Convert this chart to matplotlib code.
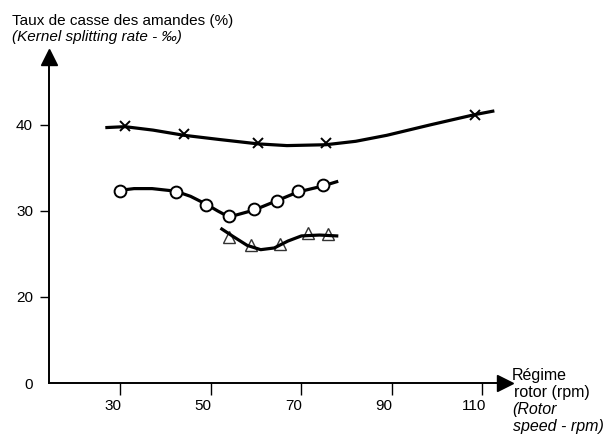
import numpy as np
import matplotlib
matplotlib.use("Agg")
from matplotlib import pyplot as plt
from matplotlib.transforms import ScaledTranslation

# measured points (rotor speed, splitting rate)
x_cross = [31.0, 44.0, 60.4, 75.4, 108.3]
y_cross = [39.9, 39.0, 37.9, 37.9, 41.2]
x_circle = [29.9, 42.2, 48.9, 54.0, 59.5, 64.6, 69.2, 74.7]
y_circle = [32.3, 32.2, 30.7, 29.4, 30.2, 31.2, 32.3, 33.0]
x_tri = [54.0, 58.8, 65.2, 71.4, 75.8]
y_tri = [27.0, 26.0, 26.2, 27.4, 27.3]

# hand-drawn trend curves
cx_cross = [27.0, 31.0, 37.2, 44.0, 52.0, 60.4, 66.8, 75.4, 82.0, 88.9, 98.4, 108.3, 112.3]
cy_cross = [39.7, 39.8, 39.4, 38.8, 38.3, 37.8, 37.6, 37.7, 38.1, 38.8, 40.0, 41.2, 41.6]
cx_circle = [29.9, 33.0, 37.0, 42.2, 45.5, 48.9, 51.5, 54.0, 59.5, 64.6, 69.2, 74.7, 77.8]
cy_circle = [32.4, 32.6, 32.6, 32.3, 31.7, 30.8, 30.0, 29.3, 30.1, 31.2, 32.2, 32.9, 33.4]
cx_tri = [52.4, 55.0, 58.0, 61.0, 64.0, 67.0, 70.0, 74.0, 77.8]
cy_tri = [27.9, 27.0, 26.0, 25.5, 25.7, 26.5, 27.1, 27.2, 27.1]

x_ticks = [30, 50, 70, 90, 110]
y_ticks = [10, 20, 30, 40]
y_ticklabels = ["0", "20", "30", "40"]

plt.rcParams["font.family"] = ["Liberation Sans", "DejaVu Sans"]

fig = plt.figure(figsize=(6.09, 4.44), dpi=100)
ax = fig.add_axes([49 / 609, 61 / 444, 456 / 609, 326 / 444])
ax.set_xlim(14.2, 115)
ax.set_ylim(10, 47.9)

ax.plot(cx_cross, cy_cross, "-", color="black", linewidth=2.3, zorder=2)
ax.plot(x_cross, y_cross, "x", color="black", markersize=7, markeredgewidth=1.4, zorder=3)
ax.plot(cx_circle, cy_circle, "-", color="black", linewidth=2.3, zorder=2)
ax.plot(x_circle, y_circle, "o", color="black", markerfacecolor="white",
        markersize=8.5, markeredgewidth=1.4, zorder=3)
ax.plot(x_tri, y_tri, "^", color="#333333", markerfacecolor="none",
        markersize=8, markeredgewidth=1.0, zorder=2)
ax.plot(cx_tri, cy_tri, "-", color="black", linewidth=2.3, zorder=3)

for side in ["top", "right"]:
    ax.spines[side].set_visible(False)
ax.spines["left"].set_linewidth(1.4)
ax.spines["bottom"].set_linewidth(1.4)
ax.plot(1, 0, ">", color="black", markersize=12, transform=ax.transAxes, clip_on=False)
ax.plot(0, 1, "^", color="black", markersize=12, transform=ax.transAxes, clip_on=False)

ax.set_xticks(x_ticks)
ax.set_yticks(y_ticks)
ax.set_yticklabels(y_ticklabels)
ax.tick_params(axis="x", direction="out", length=8.5, width=1.0, pad=3, labelsize=11)
ax.tick_params(axis="y", direction="out", length=6.5, width=1.0, pad=5, labelsize=11)
ax.yaxis.get_major_ticks()[0].tick1line.set_visible(False)
shift = ScaledTranslation(-8 / 100, 0, fig.dpi_scale_trans)
for lab in ax.get_xticklabels():
    lab.set_transform(lab.get_transform() + shift)

fig.text(12 / 609, 1 - 21 / 444, "Taux de casse des amandes (%)", fontsize=11, va="center")
fig.text(12 / 609, 1 - 37 / 444, "(Kernel splitting rate - ‰)", fontsize=11,
         style="italic", va="center")

fig.text(512 / 609, 1 - 375 / 444, "Régime", fontsize=11.5, va="center")
fig.text(514 / 609, 1 - 392 / 444, "rotor (rpm)", fontsize=11.5, va="center")
fig.text(512 / 609, 1 - 409 / 444, "(Rotor", fontsize=11.5, style="italic", va="center")
fig.text(513 / 609, 1 - 426 / 444, "speed - rpm)", fontsize=11.5, style="italic", va="center")

fig.savefig("out.png", dpi=100)
